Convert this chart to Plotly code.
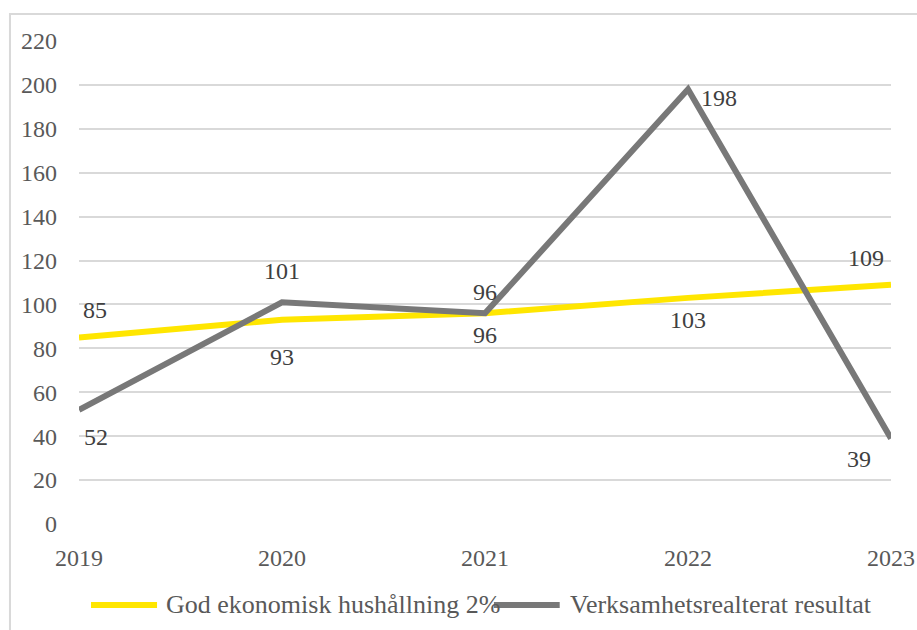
import plotly.graph_objects as go

years = ["2019", "2020", "2021", "2022", "2023"]
god_hushallning = [85, 93, 96, 103, 109]
verksamhet_resultat = [52, 101, 96, 198, 39]
y_ticks = [0, 20, 40, 60, 80, 100, 120, 140, 160, 180, 200, 220]
series_names = ["God ekonomisk hushållning 2%", "Verksamhetsrealterat resultat"]

YELLOW = "#FFE600"
GREY = "#787878"
FONT = "Liberation Serif"
BASE_FONT = "DejaVu Serif"

# label offsets in px (xshift, yshift) for each point
yellow_offsets = [(16, 27), (0, -37), (0, -22), (0, -22), (-25, 27)]
grey_offsets = [(17, -27), (0, 31), (0, 21), (31, -9), (-32, -21)]

fig = go.Figure()
fig.add_trace(go.Scatter(
    x=years, y=god_hushallning, mode="lines", name=series_names[0],
    line=dict(color=YELLOW, width=6),
))
fig.add_trace(go.Scatter(
    x=years, y=verksamhet_resultat, mode="lines", name=series_names[1],
    line=dict(color=GREY, width=6),
))

annotations = []
for series, offsets in ((god_hushallning, yellow_offsets), (verksamhet_resultat, grey_offsets)):
    for i, (val, (dx, dy)) in enumerate(zip(series, offsets)):
        # category axis: position by category index
        annotations.append(dict(
            x=i, y=val, xref="x", yref="y", text=str(val), showarrow=False,
            xshift=dx, yshift=dy,
            font=dict(family=FONT, size=24, color="#404040"),
        ))

# legend drawn below the plot: line swatch + label
shapes = [dict(
    type="rect", xref="paper", yref="paper",
    x0=-0.085, x1=1.2, y0=-0.4, y1=1.056,
    line=dict(color="#d9d9d9", width=2), layer="below",
)]
legend_items = [(0.0148, 0.0961, 0.1047, YELLOW), (0.511, 0.592, 0.602, GREY)]
leg_y = -0.1677
for name, (lx0, lx1, tx, col) in zip(series_names, legend_items):
    shapes.append(dict(
        type="line", xref="paper", yref="paper",
        x0=lx0, x1=lx1, y0=leg_y, y1=leg_y,
        line=dict(color=col, width=6),
    ))
    annotations.append(dict(
        x=tx, y=leg_y, xref="paper", yref="paper", text=name,
        showarrow=False, xanchor="left", yanchor="middle",
        font=dict(family=FONT, size=26, color="#595959"),
    ))

fig.update_layout(
    width=917, height=630,
    margin=dict(l=79, r=26, t=41, b=106),
    paper_bgcolor="white", plot_bgcolor="white",
    font=dict(family=BASE_FONT, size=24, color="#595959"),
    showlegend=False,
    annotations=annotations,
    shapes=shapes,
)
fig.update_xaxes(
    type="category", range=[0, 4], showgrid=False, zeroline=False,
    showline=False, ticks="", ticklabelstandoff=17, automargin=False,
    tickfont=dict(family=FONT, size=24, color="#595959"),
)
fig.update_yaxes(
    range=[0, 220], tickvals=y_ticks, showgrid=True,
    gridcolor="#d9d9d9", gridwidth=1.5, zeroline=False, showline=False,
    ticks="", ticklabelstandoff=21, automargin=False,
    tickfont=dict(family=FONT, size=24, color="#595959"),
)

fig.write_html("out.html")
